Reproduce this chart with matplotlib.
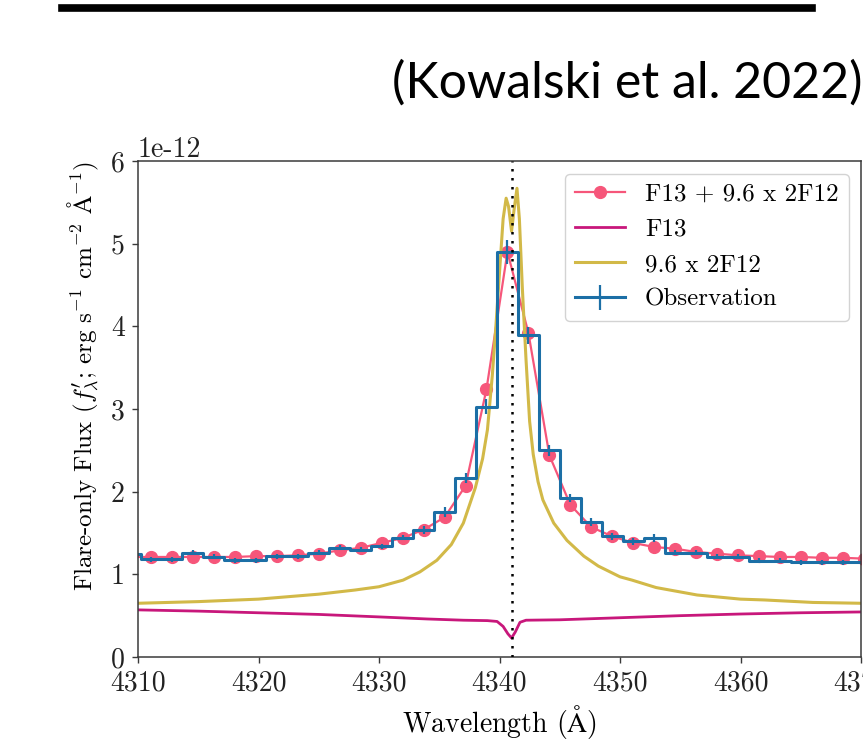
import numpy as np
import matplotlib
matplotlib.use("Agg")
import matplotlib.pyplot as plt
from matplotlib.lines import Line2D

plt.rcParams.update({
    "font.family": "serif",
    "font.serif": ["cmr10"],
    "mathtext.fontset": "cm",
    "axes.unicode_minus": False,
    "axes.formatter.use_mathtext": False,
})

FLUX_SCALE = 1e-12

# Observation bins (Angstrom) and values (units of 1e-12 erg/s/cm2/A)
bin_wavelength = [4309.34, 4311.08, 4312.82, 4314.56, 4316.30, 4318.04, 4319.78, 4321.52,
                  4323.26, 4325.00, 4326.74, 4328.48, 4330.22, 4331.96, 4333.70, 4335.44,
                  4337.18, 4338.92, 4340.66, 4342.40, 4344.14, 4345.88, 4347.62, 4349.36,
                  4351.10, 4352.84, 4354.58, 4356.32, 4358.06, 4359.80, 4361.54, 4363.28,
                  4365.02, 4366.76, 4368.50, 4370.24]
model_sum = [1.21, 1.21, 1.21, 1.21, 1.21, 1.21, 1.22, 1.22, 1.23, 1.25, 1.29, 1.32,
             1.38, 1.44, 1.54, 1.69, 2.07, 3.24, 4.90, 3.92, 2.44, 1.84, 1.57, 1.46,
             1.38, 1.33, 1.31, 1.27, 1.25, 1.23, 1.22, 1.21, 1.21, 1.20, 1.20, 1.19]
observation = [1.25, 1.185, 1.185, 1.26, 1.21, 1.17, 1.17, 1.22, 1.22, 1.26, 1.32, 1.30,
               1.34, 1.44, 1.54, 1.75, 2.16, 3.03, 4.90, 3.89, 2.50, 1.92, 1.63, 1.46,
               1.40, 1.44, 1.26, 1.26, 1.21, 1.21, 1.165, 1.165, 1.145, 1.145, 1.145, 1.145]
observation_err = [0.03, 0.03, 0.03, 0.03, 0.03, 0.03, 0.03, 0.03, 0.03, 0.03, 0.03, 0.03,
                   0.03, 0.03, 0.05, 0.06, 0.06, 0.09, 0.14, 0.10, 0.07, 0.05, 0.05, 0.04,
                   0.04, 0.05, 0.03, 0.03, 0.03, 0.03, 0.03, 0.03, 0.03, 0.03, 0.03, 0.03]

# 9.6 x 2F12 model curve
f12_wavelength = [4310.0, 4315.0, 4320.0, 4325.0, 4328.0, 4330.0, 4332.0, 4333.4, 4334.8,
                  4336.0, 4337.0, 4338.0, 4338.6, 4339.0, 4339.4, 4339.7, 4340.0, 4340.3,
                  4340.55, 4340.75, 4341.0, 4341.2, 4341.45, 4341.65, 4341.9, 4342.2,
                  4342.5, 4342.8, 4343.2, 4343.6, 4344.5, 4345.6, 4347.0, 4348.2, 4350.0,
                  4351.0, 4353.0, 4356.4, 4360.0, 4362.0, 4366.0, 4370.0]
f12_flux = [0.65, 0.67, 0.70, 0.76, 0.81, 0.85, 0.93, 1.03, 1.17,
            1.36, 1.62, 2.05, 2.40, 2.75, 3.40, 4.00, 4.65, 5.30,
            5.55, 5.45, 5.15, 5.40, 5.67, 5.30, 4.45, 3.60,
            2.85, 2.45, 2.12, 1.90, 1.62, 1.41, 1.22, 1.10, 0.97,
            0.93, 0.84, 0.75, 0.70, 0.69, 0.66, 0.65]

# F13 model curve
f13_wavelength = [4310.0, 4315.0, 4320.0, 4325.0, 4330.0, 4334.0, 4337.0, 4339.0, 4339.8,
                  4340.3, 4340.7, 4341.0, 4341.3, 4341.7, 4342.2, 4345.0, 4350.0, 4355.0,
                  4360.0, 4365.0, 4370.0]
f13_flux = [0.57, 0.555, 0.535, 0.515, 0.485, 0.46, 0.445, 0.44, 0.43,
            0.37, 0.28, 0.23, 0.30, 0.42, 0.445, 0.45, 0.475, 0.50,
            0.52, 0.535, 0.545]

line_center = 4341.0
x_ticks = [4310, 4320, 4330, 4340, 4350, 4360, 4370]
y_ticks = [0, 1, 2, 3, 4, 5, 6]

PINK = "#f6567a"
MAGENTA = "#c8177b"
YELLOW = "#d2b948"
BLUE = "#1c6fa6"

W, H = 863, 756
fig = plt.figure(figsize=(W / 100, H / 100), dpi=100)
ax = fig.add_axes([138 / W, (H - 657) / H, (861 - 138) / W, (657 - 161) / H])

sc = FLUX_SCALE
ax.plot(bin_wavelength, np.array(model_sum) * sc, "-o", color=PINK, lw=1.6, ms=8.5,
        label="F13 + 9.6 x 2F12")
ax.plot(f13_wavelength, np.array(f13_flux) * sc, color=MAGENTA, lw=2.0, label="F13")
ax.plot(f12_wavelength, np.array(f12_flux) * sc, color=YELLOW, lw=2.2, label="9.6 x 2F12")
ax.errorbar(bin_wavelength, np.array(observation) * sc, yerr=np.array(observation_err) * sc,
            drawstyle="steps-mid", color=BLUE, lw=2.2, elinewidth=1.6, label="Observation")
ax.axvline(line_center, color="k", ls=(0, (1, 2.6)), lw=1.8, zorder=6)

ax.set_xlim(4310, 4370)
ax.set_ylim(0, 6 * sc)
ax.set_xticks(x_ticks)
ax.set_yticks([v * sc for v in y_ticks])

for s in ax.spines.values():
    s.set_color("#3a3a3a")
    s.set_linewidth(1.1)
ax.tick_params(direction="out", length=4.5, width=1.0, colors="#3a3a3a",
               labelcolor="#222222", labelsize=20, pad=5)
ax.yaxis.get_offset_text().set_fontsize(20)

ax.set_xlabel(r"Wavelength ($\mathrm{Å}$)", fontsize=20)
ax.xaxis.set_label_coords(0.5, (657 - 703) / (657 - 161))
ax.set_ylabel(r"Flare-only Flux ($f^{\prime}_{\lambda}$; erg s$^{-1}$ cm$^{-2}$ $\mathrm{Å}^{-1}$)",
              fontsize=18)
ax.yaxis.set_label_coords((101 - 138) / (861 - 138), (657 - 376) / (657 - 161))

leg = ax.legend(loc="upper right", fontsize=18, framealpha=0.85, edgecolor="#cccccc",
                handlelength=2.0)

fig.text(862 / W, 1 - 98 / H, "(Kowalski et al. 2022)", ha="right", va="baseline",
         fontsize=36, family="Lato", color="black")
fig.add_artist(Line2D([62 / W, 812 / W], [1 - 8 / H, 1 - 8 / H], transform=fig.transFigure,
                      color="black", lw=5.5))

fig.savefig("out.png", dpi=100)
